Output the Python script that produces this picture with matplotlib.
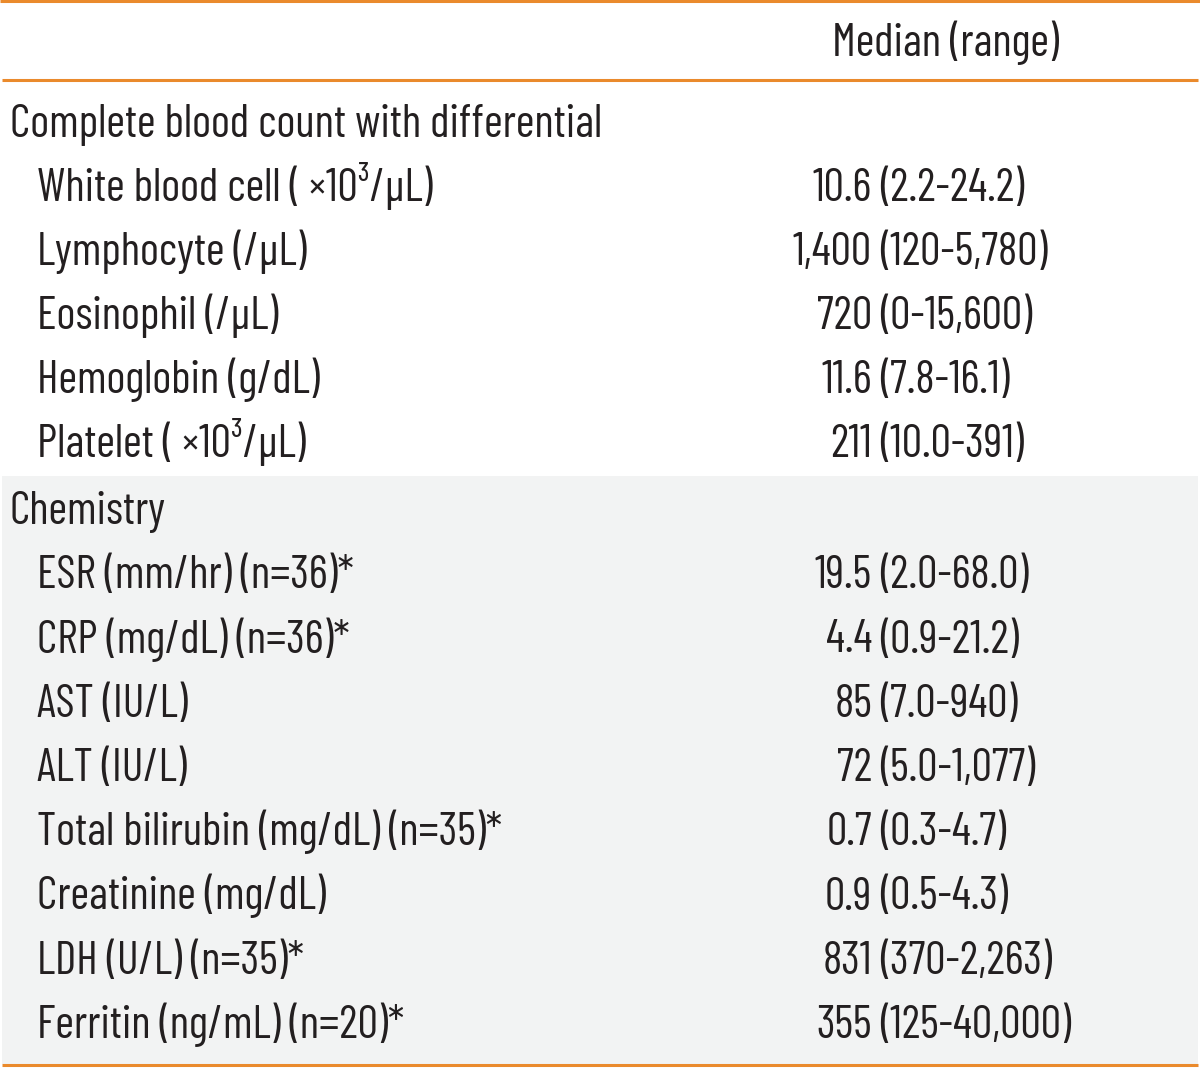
import matplotlib
matplotlib.use("Agg")
import matplotlib.pyplot as plt
from matplotlib import font_manager

installed = {f.name for f in font_manager.fontManager.ttflist}
families = [f for f in ["Barlow Condensed", "Roboto Condensed", "Liberation Sans"] if f in installed] + ["DejaVu Sans"]

header = "Median (range)"
section_cbc = "Complete blood count with differential"
section_chem = "Chemistry"

cbc_labels = ["White blood cell ( \u00d710\u00b3/\u03bcL)", "Lymphocyte (/\u03bcL)", "Eosinophil (/\u03bcL)",
              "Hemoglobin (g/dL)", "Platelet ( \u00d710\u00b3/\u03bcL)"]
cbc_medians = ["10.6", "1,400", "720", "11.6", "211"]
cbc_ranges = ["(2.2-24.2)", "(120-5,780)", "(0-15,600)", "(7.8-16.1)", "(10.0-391)"]

chem_labels = ["ESR (mm/hr) (n=36)*", "CRP (mg/dL) (n=36)*", "AST (IU/L)", "ALT (IU/L)",
               "Total bilirubin (mg/dL) (n=35)*", "Creatinine (mg/dL)", "LDH (U/L) (n=35)*",
               "Ferritin (ng/mL) (n=20)*"]
chem_medians = ["19.5", "4.4", "85", "72", "0.7", "0.9", "831", "355"]
chem_ranges = ["(2.0-68.0)", "(0.9-21.2)", "(7.0-940)", "(5.0-1,077)", "(0.3-4.7)", "(0.5-4.3)",
               "(370-2,263)", "(125-40,000)"]

W, H = 1200, 1068
fig = plt.figure(figsize=(12, 10.68), dpi=100)
ax = fig.add_axes([0, 0, 1, 1])
ax.set_xlim(0, W)
ax.set_ylim(H, 0)
ax.axis("off")

orange = "#ea8a2c"
shade = "#f2f3f3"
tc = "#231f20"
fs = 32.8
fw = 400
kw = dict(fontsize=fs, family=families, weight=fw, color=tc, va="baseline")

# shaded chemistry block
ax.add_patch(plt.Rectangle((2, 476), W - 4, 588, facecolor=shade, edgecolor="none", zorder=0))

ax.plot([0, W], [1.3, 1.3], color=orange, lw=2.2, solid_capstyle="butt", zorder=2)
for y in (79.6, 1065):
    ax.plot([2, W - 2], [y, y], color=orange, lw=2.2, solid_capstyle="butt", zorder=2)

ax.text(945.5, 56, header, ha="center", **kw)

def row(y, label, x, med=None, rng=None):
    ax.text(x, y, label, ha="left", **kw)
    if med is not None:
        ax.text(872, y, med, ha="right", **kw)
        ax.text(880, y, rng, ha="left", **kw)

step_cbc = 64.0
y = 137
row(y, section_cbc, 10)
for lab, m, r in zip(cbc_labels, cbc_medians, cbc_ranges):
    y += step_cbc
    row(y, lab, 37, m, r)

step_chem = 64.25
y = 524
row(y, section_chem, 10)
for lab, m, r in zip(chem_labels, chem_medians, chem_ranges):
    y += step_chem
    row(y, lab, 37, m, r)

fig.savefig("out.png", dpi=100)
